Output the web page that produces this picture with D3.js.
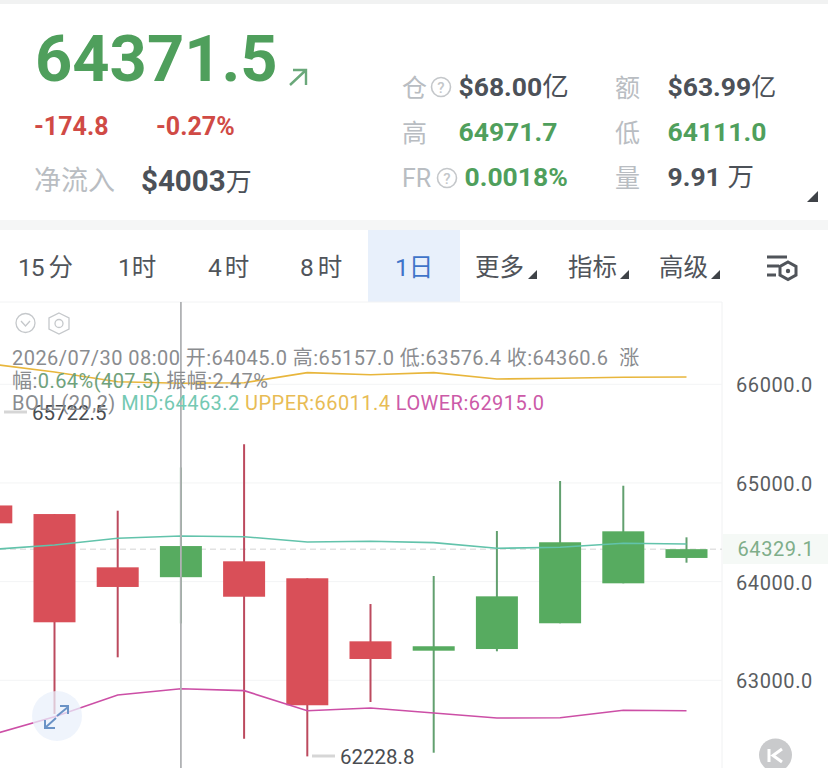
<!DOCTYPE html>
<html><head><meta charset="utf-8">
<script src="https://cdn.jsdelivr.net/npm/d3@7"></script>
<style>html,body{margin:0;padding:0;background:#fff;overflow:hidden}svg{display:block}text{font-family:Roboto,"Noto Sans CJK SC",sans-serif}</style>
</head><body><svg id="c" width="828" height="768"></svg>
<script>
const dates=["07/27","07/28","07/29","07/30","07/31","08/01","08/02","08/03","08/04","08/05","08/06","08/07"];
const opens =[64772,64685,64145,64045.0,64206,64034,63395,63300,63317,63578,63983,64240];
const closes=[64591,63588,63946,64360.6,63847,62747,63216,63345,63851,64399,64510,64329.1];
const highs =[65722.5,64685,64719,65157.0,65392,64034,63773,64057,64513,65020,64972,64449];
const lows  =[64100,62659,63233,63576.4,62408,62228.8,62780,62266,63294,63578,63983,64192];
const mid   =[64326,64371,64439,64463.2,64455,64402,64409,64395,64338,64348,64389,64381];
const upper =[66206,66125,66026,66011.4,66016,66118,66097,66118,66054,66061,66071,66074];
const lower =[62446,62631,62851,62915.0,62895,62692,62719,62669,62618,62621,62696,62692];
const yTicks=[66000,65000,64000,63000];
const lastPrice=64329.1;
const periods=["15 分","1时","4时","8时","1日","更多","指标","高级"];

const svg=d3.select("#c");
const T=(x,y,s,size,fill,weight,anchor,ls)=>svg.append("text").attr("x",x).attr("y",y).text(s)
  .attr("font-size",size).attr("fill",fill).attr("font-weight",weight||400)
  .attr("text-anchor",anchor||"start").attr("letter-spacing",ls||0).attr("xml:space","preserve");
const unit=(t,s,size)=>{const u=t.append("tspan").text(s).attr("font-weight",400);if(size)u.attr("font-size",size);return u;};

// page shading
svg.append("rect").attr("width",828).attr("height",4).attr("fill","#f1f2f2");
svg.append("rect").attr("y",220).attr("width",828).attr("height",10).attr("fill","#f5f6f6");
svg.append("rect").attr("x",368).attr("y",230).attr("width",92).attr("height",72).attr("fill","#e8f0fb");

// header
const G="#4f9f5c",R="#d04a45",D="#4c5158",L="#b9bdc2";
T(35,81,"64371.5",65,G,700);
svg.append("path").attr("d","M290 85 L306 70 M293 70 H306 V85").attr("fill","none").attr("stroke","#6aa87a").attr("stroke-width",2.4);
T(34,135,"-174.8",25,R,700);
T(156,135,"-0.27%",25,R,700);
T(34,190,"净流入",27,L);
unit(T(141,191,"$4003",29.5,D,700),"万",26);
T(402,97,"仓",25,L); T(402,142,"高",25,L); T(402,187,"FR",25,L);
const qm=(cx,cy)=>{svg.append("circle").attr("cx",cx).attr("cy",cy).attr("r",9.5).attr("fill","none").attr("stroke","#c4c7ca").attr("stroke-width",1.6);
  T(cx,cy+5.5,"?",15,"#c4c7ca",500,"middle");};
qm(441,87); qm(447,178);
unit(T(458.5,96,"$68.00",26.5,D,700),"亿");
T(458.5,141,"64971.7",26.5,G,700);
T(464.5,186,"0.0018%",26.5,G,700);
T(615,97,"额",25,L); T(615,142,"低",25,L); T(615,187,"量",25,L);
unit(T(667.5,96,"$63.99",26.5,D,700),"亿",25);
T(667.5,141,"64111.0",26.5,G,700);
unit(T(667.5,186,"9.91 ",26.5,D,700),"万");
const tri=(x,y,s)=>svg.append("path").attr("d",`M${x} ${y} L${x+s} ${y} L${x+s} ${y-s} Z`).attr("fill","#3f4348");
tri(807,202,11);

// period tabs
const tabX=[18,118,208,300,395,475,568,659];
const tabLs=[-1,0,3,4,0,0,0,0];
periods.forEach((p,i)=>T(tabX[i],276,p,24.5,i===4?"#3f74c9":"#50545a",400,"start",tabLs[i]));
tri(528,279,9); tri(620,279,9); tri(711,279,9);
svg.append("path").attr("d","M767 257 H787 M767 266 H779 M767 275 H776").attr("stroke","#50545a").attr("stroke-width",3);
svg.append("path").attr("d","M788 262 L796 266.5 V275 L788 279.5 L780 275 V266.5 Z").attr("fill","none").attr("stroke","#50545a").attr("stroke-width",3);
svg.append("circle").attr("cx",788).attr("cy",271).attr("r",2.2).attr("fill","#50545a");

// scales
const y=d3.scaleLinear().domain([66000,63000]).range([384.3,680.3]);
const x=d3.scalePoint().domain(dates).range([-8.7,686.5]);
const bw=42;

// plot frame & grid
svg.append("line").attr("x1",0).attr("x2",722).attr("y1",302).attr("y2",302).attr("stroke","#f2f3f4");
svg.append("line").attr("x1",722).attr("x2",722).attr("y1",302).attr("y2",768).attr("stroke","#f0f1f2");
svg.append("g").selectAll("line").data(yTicks).join("line")
  .attr("x1",0).attr("x2",722).attr("y1",d=>y(d)).attr("y2",d=>y(d)).attr("stroke","#f3f4f5");
const axis=d3.axisRight(y).tickValues(yTicks).tickFormat(d3.format(".1f")).tickSize(0).tickPadding(0);
const ag=svg.append("g").attr("transform","translate(736,1)").call(axis);
ag.select(".domain").remove();
ag.selectAll("text").attr("font-size",20).attr("fill","#5a5d61").attr("letter-spacing",.6).attr("font-family","Roboto");

// last price
svg.append("rect").attr("x",723).attr("y",534).attr("width",105).attr("height",30).attr("fill","#f5f9f6");
svg.append("line").attr("x1",0).attr("x2",722).attr("y1",y(lastPrice)).attr("y2",y(lastPrice))
  .attr("stroke","#d4d4d4").attr("stroke-dasharray","6 4");
T(737.5,556,d3.format(".1f")(lastPrice),20,"#7fae8a",400,"start",.6);

// candles
svg.append("defs").append("clipPath").attr("id","p").append("rect").attr("width",722).attr("height",768);
const cg=svg.append("g").attr("clip-path","url(#p)");
const idx=d3.range(dates.length), up=i=>closes[i]>=opens[i];
cg.append("g").selectAll("line").data(idx).join("line")
  .attr("x1",i=>x(dates[i])).attr("x2",i=>x(dates[i])).attr("y1",i=>y(highs[i])).attr("y2",i=>y(lows[i]))
  .attr("stroke",i=>up(i)?"#62a06f":"#bc4a5e").attr("stroke-width",2);
cg.append("g").selectAll("rect").data(idx).join("rect")
  .attr("x",i=>x(dates[i])-bw/2).attr("width",bw)
  .attr("y",i=>y(Math.max(opens[i],closes[i])))
  .attr("height",i=>Math.abs(y(opens[i])-y(closes[i])))
  .attr("fill",i=>up(i)?"#57ab60":"#d94f58");

// expand button under the lines
svg.append("circle").attr("cx",57).attr("cy",716).attr("r",25).attr("fill","#e9f0fb").attr("opacity",.75);

// BOLL
const line=d3.line().x((d,i)=>x(dates[i])).y(d=>y(d));
[[mid,"#62c3ab"],[upper,"#e8b63c"],[lower,"#cc4fa6"]].forEach(([s,c])=>
  cg.append("path").attr("d",line(s)).attr("fill","none").attr("stroke",c).attr("stroke-width",1.6));

svg.append("path").attr("d","M57 716 L68 707 M60 706 H68 V714 M56 718 L46 727 M45 720 V728 H55").attr("fill","none").attr("stroke","#6b93c6").attr("stroke-width",2);

// crosshair
svg.append("line").attr("x1",x("07/30")).attr("x2",x("07/30")).attr("y1",302).attr("y2",768).attr("stroke","#b0b2b4").attr("stroke-width",1.8);

// extremes
svg.append("line").attr("x1",4).attr("x2",27).attr("y1",412).attr("y2",412).attr("stroke","#d6d6d6").attr("stroke-width",3);
T(32,420,d3.format(".1f")(highs[0]),20.5,"#4a4d52");
svg.append("line").attr("x1",312).attr("x2",335).attr("y1",756).attr("y2",756).attr("stroke","#d6d6d6").attr("stroke-width",3);
T(340,764,d3.format(".1f")(lows[5]),20.5,"#4a4d52");

// toolbar icons
svg.append("circle").attr("cx",25.5).attr("cy",323).attr("r",9.5).attr("fill","none").attr("stroke","#c5c8cb").attr("stroke-width",1.3);
svg.append("path").attr("d","M21 321 L25.5 326 L30 321").attr("fill","none").attr("stroke","#c5c8cb").attr("stroke-width",1.3);
svg.append("path").attr("d","M59 313 L69 318 V329 L59 334 L49 329 V318 Z").attr("fill","none").attr("stroke","#c5c8cb").attr("stroke-width",1.3);
svg.append("circle").attr("cx",59).attr("cy",323.5).attr("r",4).attr("fill","none").attr("stroke","#c5c8cb").attr("stroke-width",1.3);

// legend
const g1="#8a8c8f";
T(12,365,"2026/07/30 08:00 开:64045.0 高:65157.0 低:63576.4 收:64360.6  涨",20,g1,400,"start",.45);
const l2=T(12,388,"幅:",20,g1,400,"start",.45);
l2.append("tspan").text("0.64%(407.5)").attr("fill","#6fa27c");
l2.append("tspan").text(" 振幅:2.47%");
const l3=T(12,410,"BOLL(20,2) ",20,g1,400,"start",.45);
l3.append("tspan").text("MID:64463.2 ").attr("fill","#74c9b3");
l3.append("tspan").text("UPPER:66011.4 ").attr("fill","#e8bc55");
l3.append("tspan").text("LOWER:62915.0").attr("fill","#cc5aa8");

// K button
svg.append("circle").attr("cx",775.5).attr("cy",755).attr("r",16.5).attr("fill","#c9cacc");
svg.append("path").attr("d","M769 749 V762 M782 749 L773 755.5 L782 762").attr("fill","none").attr("stroke","#fff").attr("stroke-width",3);
</script></body></html>
